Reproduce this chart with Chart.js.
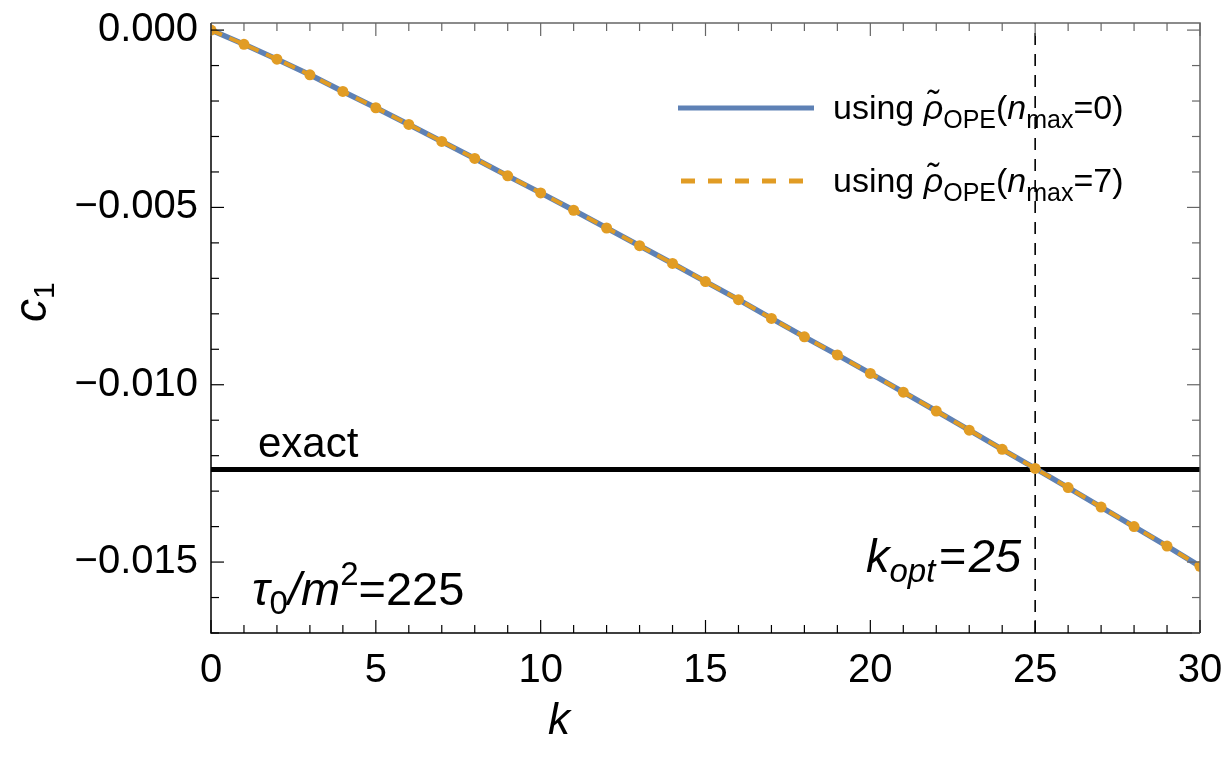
<!DOCTYPE html>
<html>
<head>
<meta charset="utf-8">
<script src="https://cdn.jsdelivr.net/npm/chart.js@4.4.1/dist/chart.umd.min.js"></script>
<style>
html,body{margin:0;padding:0;background:#fff;}
#wrap{width:1226px;height:760px;}
</style>
</head>
<body>
<div id="wrap"><canvas id="c" width="1226" height="760"></canvas></div>
<script>
// ---- data ----
const kValues = [0,1,2,3,4,5,6,7,8,9,10,11,12,13,14,15,16,17,18,19,20,21,22,23,24,25,26,27,28,29,30];
const c1_nmax0 = [0,-0.00040,-0.00082,-0.00126,-0.00173,-0.00219,-0.00266,-0.00314,-0.00362,-0.00411,
  -0.00459,-0.00508,-0.00558,-0.00608,-0.00658,-0.00709,-0.00760,-0.00813,-0.00865,-0.00916,
  -0.00968,-0.01021,-0.01074,-0.01128,-0.01182,-0.01236,-0.01290,-0.01345,-0.01400,-0.01455,-0.01512];
const c1_nmax7 = [0,-0.00040,-0.00082,-0.00126,-0.00173,-0.00219,-0.00266,-0.00314,-0.00362,-0.00411,
  -0.00459,-0.00508,-0.00558,-0.00608,-0.00658,-0.00709,-0.00760,-0.00813,-0.00865,-0.00916,
  -0.00968,-0.01021,-0.01074,-0.01128,-0.01182,-0.01236,-0.01290,-0.01345,-0.01400,-0.01455,-0.01512];
const exactValue = -0.01239;
const kOpt = 25;
const xTicks = [0,5,10,15,20,25,30];
const yTicks = [-0.015,-0.010,-0.005,0.000];

const BLUE = '#5E81B5', ORANGE = '#E19C24';
const FONT = '"Liberation Sans", Arial, Helvetica, sans-serif';

const toPts = (xs, ys) => xs.map((x,i)=>({x:x, y:ys[i]}));

function drawSegs(ctx, x, y, segs){
  ctx.textAlign='left'; ctx.textBaseline='alphabetic'; ctx.fillStyle='#000';
  for(const s of segs){
    ctx.font = (s.italic?'italic ':'') + s.size + 'px ' + FONT;
    x += (s.pre||0);
    ctx.fillText(s.t, x, y + (s.dy||0));
    x += ctx.measureText(s.t).width + (s.gap||0);
  }
  return x;
}

const decor = {
  id:'decor',
  afterDatasetsDraw(chart){
    const ctx = chart.ctx, a = chart.chartArea;
    const xs = chart.scales.x, ys = chart.scales.y;
    ctx.save();
    // frame
    ctx.lineWidth = 1.5;
    ctx.strokeStyle = '#666';
    ctx.beginPath(); ctx.moveTo(a.left, a.top); ctx.lineTo(a.right, a.top); ctx.lineTo(a.right, a.bottom); ctx.stroke();
    ctx.strokeStyle = '#000';
    ctx.beginPath(); ctx.moveTo(a.left, a.top); ctx.lineTo(a.left, a.bottom); ctx.lineTo(a.right, a.bottom); ctx.stroke();
    // ticks
    ctx.lineWidth = 1.2;
    for(let k=0;k<=30;k++){
      const px = xs.getPixelForValue(k);
      const L = (k%5===0)?13:8;
      ctx.strokeStyle='#000';
      ctx.beginPath(); ctx.moveTo(px, a.bottom); ctx.lineTo(px, a.bottom-L); ctx.stroke();
      ctx.strokeStyle='#666';
      ctx.beginPath(); ctx.moveTo(px, a.top); ctx.lineTo(px, a.top+L); ctx.stroke();
    }
    for(let j=0;j<=17;j++){
      const v = -j*0.001;
      const py = ys.getPixelForValue(v);
      const L = (j%5===0)?13:8;
      ctx.strokeStyle='#000';
      ctx.beginPath(); ctx.moveTo(a.left, py); ctx.lineTo(a.left+L, py); ctx.stroke();
      ctx.strokeStyle='#666';
      ctx.beginPath(); ctx.moveTo(a.right, py); ctx.lineTo(a.right-L, py); ctx.stroke();
    }
    // legend
    ctx.lineCap='butt';
    ctx.strokeStyle = BLUE; ctx.lineWidth = 5; ctx.setLineDash([]);
    ctx.beginPath(); ctx.moveTo(678,108); ctx.lineTo(814,108); ctx.stroke();
    ctx.strokeStyle = ORANGE; ctx.lineWidth = 5; ctx.setLineDash([14,13]);
    ctx.beginPath(); ctx.moveTo(681,181); ctx.lineTo(808,181); ctx.stroke();
    ctx.setLineDash([]);
    const legSegs = n => [
      {t:'using ', size:34},
      {t:'\u03C1\u0303', size:34, italic:true},
      {t:'OPE', size:25, dy:9},
      {t:'(', size:34},
      {t:'n', size:34, italic:true},
      {t:'max', size:25, dy:9},
      {t:'='+n+')', size:34}
    ];
    drawSegs(ctx, 833, 119, legSegs(0));
    drawSegs(ctx, 833, 192, legSegs(7));
    // annotations
    drawSegs(ctx, 258, 457, [{t:'exact', size:42}]);
    drawSegs(ctx, 252, 605, [
      {t:'\u03C4', size:47, italic:true},
      {t:'0', size:33, dy:9},
      {t:'/', size:47, italic:true},
      {t:'m', size:47, italic:true},
      {t:'2', size:33, dy:-20},
      {t:'=225', size:47}
    ]);
    drawSegs(ctx, 866, 572, [
      {t:'k', size:47, italic:true},
      {t:'opt', size:33, italic:true, dy:10},
      {t:'=', size:47, italic:true, pre:3, gap:3},
      {t:'25', size:47, italic:true}
    ]);
    // axis titles
    drawSegs(ctx, 548, 734, [{t:'k', size:44, italic:true}]);
    ctx.save();
    ctx.translate(46, 322);
    ctx.rotate(-Math.PI/2);
    drawSegs(ctx, 0, 0, [{t:'c', size:46, italic:true},{t:'1', size:30, dy:8}]);
    ctx.restore();
    ctx.restore();
  }
};

new Chart(document.getElementById('c'), {
  type:'line',
  data:{
    datasets:[
      {label:'using ρ̃OPE(nmax=7)', data:toPts(kValues,c1_nmax7), borderColor:ORANGE, backgroundColor:ORANGE,
        borderWidth:4, borderDash:[12,8], pointRadius:5.5, pointBorderWidth:0, pointBackgroundColor:ORANGE,
        tension:0, clip:0, order:0},
      {label:'using ρ̃OPE(nmax=0)', data:toPts(kValues,c1_nmax0), borderColor:BLUE, borderWidth:5.5,
        pointRadius:0, tension:0, clip:0, order:1},
      {label:'exact', data:[{x:kValues[0],y:exactValue},{x:kValues[kValues.length-1],y:exactValue}],
        borderColor:'#000', borderWidth:5, pointRadius:0, clip:0, order:2},
      {label:'kopt', data:[{x:kOpt,y:-0.017},{x:kOpt,y:0.0002}], borderColor:'#000', borderWidth:1.6,
        borderDash:[12,9], pointRadius:0, clip:0, order:3}
    ]
  },
  options:{
    responsive:false, animation:false,
    layout:{padding:{top:23,right:26,bottom:0,left:0}},
    plugins:{legend:{display:false}, tooltip:{enabled:false}},
    scales:{
      x:{type:'linear', min:0, max:30,
        afterBuildTicks(s){ s.ticks = xTicks.map(v=>({value:v})); },
        afterFit(s){ s.height = 127; s.paddingLeft = 0; s.paddingRight = 0; },
        grid:{display:false, drawTicks:false}, border:{display:false},
        ticks:{color:'#000', font:{family:FONT, size:40}, padding:14, maxRotation:0,
          callback:v=>String(v)}
      },
      y:{type:'linear', min:-0.017, max:0.0002,
        afterBuildTicks(s){ s.ticks = yTicks.map(v=>({value:v})); },
        afterFit(s){ s.width = 211; s.paddingTop = 0; s.paddingBottom = 0; },
        grid:{display:false, drawTicks:false}, border:{display:false},
        ticks:{color:'#000', font:{family:FONT, size:40}, padding:13,
          callback:v=> (Math.abs(v)<1e-12 ? '0.000' : '\u2212'+Math.abs(v).toFixed(3))}
      }
    }
  },
  plugins:[decor]
});
</script>
</body>
</html>
